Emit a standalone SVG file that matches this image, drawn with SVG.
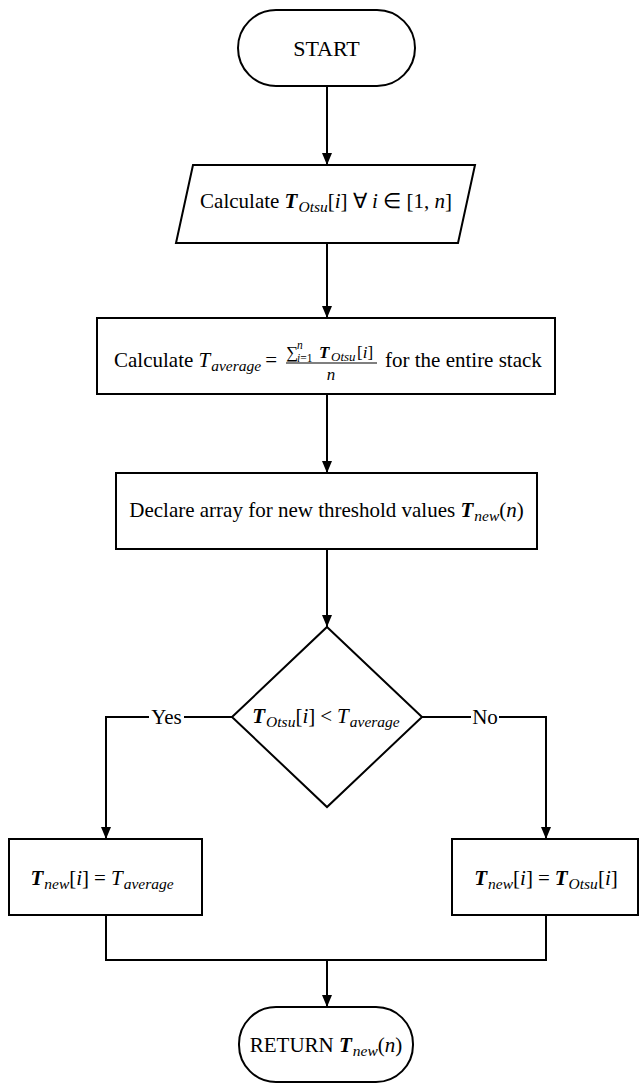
<svg xmlns="http://www.w3.org/2000/svg" width="639" height="1084" viewBox="0 0 639 1084">
<defs>
<marker id="arr" viewBox="0 0 12 12" refX="12" refY="6" markerWidth="12" markerHeight="12" markerUnits="userSpaceOnUse" orient="auto">
<path d="M0,1 L12,6 L0,11 Z" fill="#000"/>
</marker>
<style>
.s{fill:#fff;stroke:#000;stroke-width:2}
.c{fill:none;stroke:#000;stroke-width:2}
text{font-family:"Liberation Serif","Times New Roman",serif;font-size:21px;fill:#000}
.m{text-anchor:middle}
.bi{font-weight:bold;font-style:italic}
.i{font-style:italic}
.sub{font-style:italic;font-size:15.5px}
.f{font-size:17px}
.fs{font-size:11.5px}
</style>
</defs>
<rect width="639" height="1084" fill="#fff"/>
<g id="connectors">
<path class="c" d="M327,86 V165" marker-end="url(#arr)"/>
<path class="c" d="M327,243 V318" marker-end="url(#arr)"/>
<path class="c" d="M327,394 V473" marker-end="url(#arr)"/>
<path class="c" d="M327,549 V627" marker-end="url(#arr)"/>
<path class="c" d="M232,717 H106 V839" marker-end="url(#arr)"/>
<path class="c" d="M422,717 H546 V839" marker-end="url(#arr)"/>
<path class="c" d="M106,915 V960 H546 V915"/>
<path class="c" d="M327,960 V1007" marker-end="url(#arr)"/>
<rect x="149" y="705" width="35" height="24" fill="#fff"/>
<text class="m" x="166.5" y="724">Yes</text>
<rect x="471" y="705" width="28" height="24" fill="#fff"/>
<text class="m" x="485" y="724">No</text>
</g>
<g id="start">
<rect class="s" x="238" y="10" width="177" height="76" rx="38"/>
<text class="m" x="326.5" y="56" style="font-size:22px">START</text>
</g>
<g id="calc-otsu">
<polygon class="s" points="193,165 475,165 458,243 176,243"/>
<text class="m" x="326" y="208">Calculate <tspan class="bi">T</tspan><tspan class="sub" dx="1" dy="4">Otsu</tspan><tspan dy="-4">[</tspan><tspan class="i">i</tspan>] ∀ <tspan class="i">i</tspan> ∈ [1, <tspan class="i">n</tspan>]</text>
</g>
<g id="calc-avg">
<rect class="s" x="97" y="318" width="458" height="76"/>
<text x="277" y="367" text-anchor="end">Calculate <tspan class="i">T</tspan><tspan class="sub" dx="1" dy="4">average</tspan><tspan dx="4" dy="-4">=</tspan></text>
<text class="f" x="286" y="358">∑</text>
<text class="fs i" x="297" y="362">i<tspan font-style="normal">=1</tspan></text>
<text class="fs i" x="297" y="349">n</text>
<text class="f bi" x="319" y="358">T</text>
<text class="i" x="331" y="361" style="font-size:13px">Otsu</text>
<text class="f" x="357" y="358">[<tspan class="i">i</tspan>]</text>
<line x1="286" y1="363" x2="377" y2="363" stroke="#000" stroke-width="1.2"/>
<text class="f i" x="331" y="380" text-anchor="middle">n</text>
<text x="385" y="367">for the entire stack</text>
</g>
<g id="declare">
<rect class="s" x="116" y="473" width="421" height="76"/>
<text class="m" x="326.5" y="517">Declare array for new threshold values <tspan class="bi">T</tspan><tspan class="sub" dx="1" dy="4">new</tspan><tspan dy="-4">(</tspan><tspan class="i">n</tspan>)</text>
</g>
<g id="decision">
<polygon class="s" points="327,627 422,717 327,807 232,717"/>
<text class="m" x="326" y="723"><tspan class="bi">T</tspan><tspan class="sub" dx="1" dy="4">Otsu</tspan><tspan dy="-4">[</tspan><tspan class="i">i</tspan>]<tspan dx="5">&lt;</tspan><tspan class="i" dx="5">T</tspan><tspan class="sub" dx="1" dy="4">average</tspan></text>
</g>
<g id="yes-box">
<rect class="s" x="9" y="839" width="193" height="76"/>
<text class="m" x="102" y="885"><tspan class="bi">T</tspan><tspan class="sub" dx="1" dy="4">new</tspan><tspan dy="-4">[</tspan><tspan class="i">i</tspan>]<tspan dx="5">=</tspan><tspan class="i" dx="5">T</tspan><tspan class="sub" dx="1" dy="4">average</tspan></text>
</g>
<g id="no-box">
<rect class="s" x="452" y="839" width="186" height="76"/>
<text class="m" x="546" y="885"><tspan class="bi">T</tspan><tspan class="sub" dx="1" dy="4">new</tspan><tspan dy="-4">[</tspan><tspan class="i">i</tspan>]<tspan dx="5">=</tspan><tspan class="bi" dx="5">T</tspan><tspan class="sub" dx="1" dy="4">Otsu</tspan><tspan dy="-4">[</tspan><tspan class="i">i</tspan>]</text>
</g>
<g id="return">
<rect class="s" x="239" y="1007" width="174" height="75" rx="37"/>
<text class="m" x="326" y="1052">RETURN <tspan class="bi">T</tspan><tspan class="sub" dx="1" dy="4">new</tspan><tspan dy="-4">(</tspan><tspan class="i">n</tspan>)</text>
</g>
</svg>
